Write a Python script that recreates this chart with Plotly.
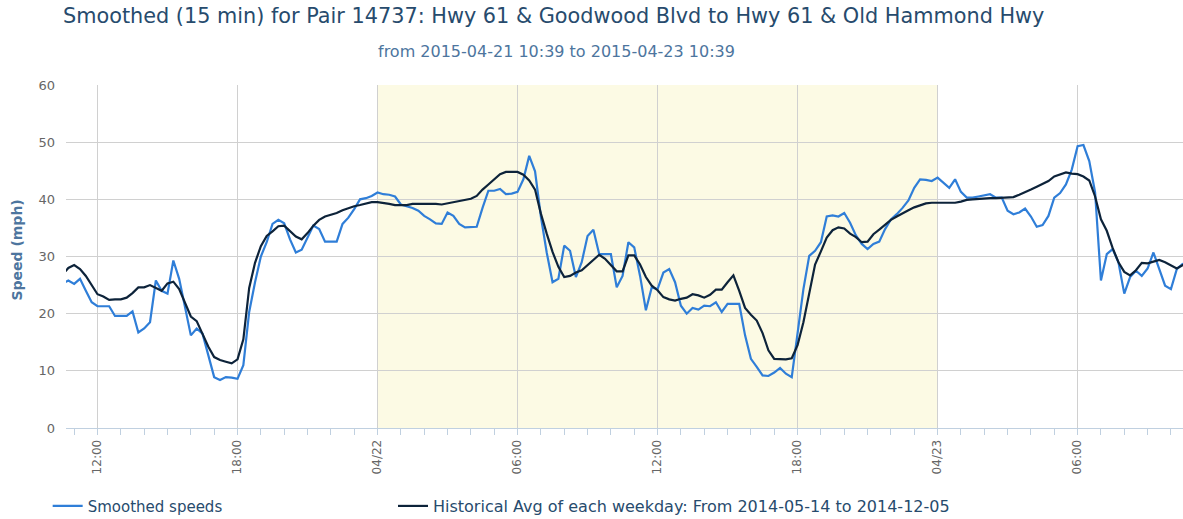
import pandas as pd
import plotly.graph_objects as go

# 15-minute timestamps (first point just before the visible window)
times = pd.date_range("2015-04-21 10:30", periods=194, freq="15min")

smoothed = [
    25.3, 25.8, 25.2, 26.1, 24.0, 22.0, 21.3, 21.3, 21.3, 19.6, 19.6, 19.6, 20.4, 16.7, 17.4, 18.5,
    25.8, 24.0, 23.5, 29.3, 26.1, 20.9, 16.2, 17.4, 16.5, 12.7, 8.9, 8.4, 8.9, 8.8, 8.6, 11.0,
    20.3, 25.5, 30.0, 32.5, 35.7, 36.4, 35.8, 33.0, 30.7, 31.2, 33.3, 35.4, 34.8, 32.6, 32.6, 32.6,
    35.7, 36.8, 38.3, 40.0, 40.2, 40.6, 41.2, 40.9, 40.8, 40.5, 39.1, 38.8, 38.5, 38.0, 37.1, 36.5,
    35.8, 35.7, 37.7, 37.1, 35.7, 35.1, 35.1, 35.2, 38.5, 41.5, 41.5, 41.8, 40.9, 41.0, 41.3, 43.5,
    47.6, 44.9, 37.0, 30.7, 25.5, 26.1, 31.9, 31.0, 26.4, 29.0, 33.6, 34.7, 30.4, 30.4, 30.4, 24.6,
    26.6, 32.5, 31.6, 26.6, 20.6, 24.6, 24.3, 27.2, 27.8, 25.5, 21.4, 20.0, 21.0, 20.7, 21.4, 21.3,
    22.0, 20.3, 21.7, 21.7, 21.7, 16.2, 12.1, 10.7, 9.2, 9.1, 9.7, 10.5, 9.5, 8.9, 16.2, 24.3,
    30.1, 31.0, 32.5, 37.0, 37.2, 37.0, 37.6, 35.9, 33.7, 32.2, 31.3, 32.2, 32.6, 34.8, 36.5, 37.4,
    38.5, 39.8, 42.0, 43.5, 43.4, 43.2, 43.8, 42.9, 42.0, 43.5, 41.3, 40.3, 40.3, 40.5, 40.7, 40.9,
    40.3, 40.3, 38.0, 37.4, 37.7, 38.4, 37.0, 35.2, 35.5, 37.1, 40.3, 41.1, 42.6, 45.2, 49.3, 49.5,
    46.7, 41.2, 25.8, 30.4, 31.3, 29.0, 23.5, 26.4, 27.5, 26.6, 27.9, 30.7, 27.8, 24.9, 24.3, 27.8,
    28.7, 28.5,
]

historical = [
    26.8, 28.0, 28.5, 27.8, 26.6, 25.0, 23.4, 23.0, 22.4, 22.5, 22.5, 22.8, 23.6, 24.6, 24.6, 25.0,
    24.5, 24.0, 25.3, 25.6, 24.3, 22.0, 19.5, 18.7, 16.5, 14.2, 12.4, 11.9, 11.6, 11.3, 12.0, 15.5,
    24.5, 28.9, 31.8, 33.6, 34.4, 35.3, 35.4, 34.5, 33.5, 33.0, 34.1, 35.4, 36.4, 37.0, 37.3, 37.6,
    38.1, 38.5, 38.8, 39.0, 39.3, 39.5, 39.5, 39.4, 39.2, 39.0, 39.0, 39.0, 39.2, 39.2, 39.2, 39.3,
    39.2, 39.1, 39.3, 39.4, 39.6, 39.8, 40.1, 40.6, 41.7, 42.6, 43.5, 44.4, 44.8, 44.8, 44.8, 44.3,
    43.3, 41.7, 37.5, 34.0, 30.8, 28.2, 26.4, 26.6, 27.2, 27.6, 28.5, 29.3, 30.3, 29.6, 28.5, 27.4,
    27.4, 30.2, 30.2, 28.6, 26.4, 24.9, 24.1, 22.9, 22.5, 22.3, 22.6, 22.8, 23.4, 23.2, 22.8, 23.3,
    24.2, 24.2, 25.5, 26.7, 24.0, 21.0, 19.8, 18.8, 16.6, 13.6, 12.1, 12.1, 12.0, 12.2, 14.5, 18.5,
    23.9, 28.6, 30.9, 33.3, 34.6, 35.1, 34.9, 34.0, 33.4, 32.5, 32.6, 33.9, 34.7, 35.6, 36.4, 37.0,
    37.6, 38.1, 38.6, 39.0, 39.3, 39.4, 39.4, 39.3, 39.3, 39.4, 39.6, 39.9, 40.0, 40.1, 40.1, 40.2,
    40.2, 40.3, 40.4, 40.4, 40.8, 41.2, 41.7, 42.2, 42.7, 43.2, 44.0, 44.4, 44.7, 44.5, 44.4, 44.0,
    43.3, 40.5, 36.5, 34.5, 31.5, 29.0, 27.3, 26.7, 27.6, 28.9, 28.8, 29.1, 29.4, 29.0, 28.5, 27.9,
    28.5, 28.4,
]

tick_vals = ["2015-04-21 12:00", "2015-04-21 18:00", "2015-04-22 00:00", "2015-04-22 06:00",
             "2015-04-22 12:00", "2015-04-22 18:00", "2015-04-23 00:00", "2015-04-23 06:00"]
tick_text = ["12:00", "18:00", "04/22", "06:00", "12:00", "18:00", "04/23", "06:00"]

band_start = "2015-04-22 00:00"
band_end = "2015-04-23 00:00"

title_text = "Smoothed (15 min) for Pair 14737: Hwy 61 & Goodwood Blvd to Hwy 61 & Old Hammond Hwy"
subtitle_text = "from 2015-04-21 10:39 to 2015-04-23 10:39"

FONT = "DejaVu Sans"

fig = go.Figure()
fig.add_trace(go.Scatter(x=times, y=smoothed, mode="lines", name="Smoothed speeds",
                         line=dict(color="#2f7ed8", width=2.2), legend="legend"))
fig.add_trace(go.Scatter(x=times, y=historical, mode="lines",
                         name="Historical Avg of each weekday: From 2014-05-14 to 2014-12-05",
                         line=dict(color="#0d233a", width=2.2), legend="legend2"))

fig.add_shape(type="rect", xref="x", yref="paper", x0=band_start, x1=band_end, y0=0, y1=1,
              fillcolor="#fcfae4", line=dict(width=0), layer="below")

fig.update_layout(
    width=1183, height=519,
    margin=dict(l=66, r=0, t=85, b=91),
    paper_bgcolor="white", plot_bgcolor="white",
    font=dict(family=FONT, color="#666666"),
    xaxis=dict(
        type="date", automargin=False,
        range=["2015-04-21 10:39", "2015-04-23 10:31"],
        tickmode="array", tickvals=tick_vals, ticktext=tick_text,
        tickangle=-90, tickfont=dict(size=12, color="#666666"),
        ticks="outside", ticklen=6, tickcolor="#C0D0E0", tickwidth=1,
        showgrid=True, gridcolor="#d0d0d0", gridwidth=1,
        showline=True, linecolor="#C0D0E0", linewidth=1,
        minor=dict(tickmode="linear", tick0="2015-04-21 00:00", dtick=3600000,
                   ticks="outside", ticklen=6, tickcolor="#C0D0E0", showgrid=False),
        zeroline=False,
    ),
    yaxis=dict(
        range=[0, 60], dtick=10, tick0=0, automargin=False,
        tickfont=dict(size=13, color="#666666"),
        showgrid=True, gridcolor="#d0d0d0", gridwidth=1,
        zeroline=False, showline=False, ticks="", ticklabelstandoff=10,
    ),
    legend=dict(orientation="h", xref="container", yref="container",
                x=0.0403, xanchor="left", y=0.025, yanchor="middle",
                font=dict(size=15, color="#274b6d", family=FONT), bgcolor="rgba(0,0,0,0)"),
    legend2=dict(orientation="h", xref="container", yref="container",
                 x=0.3322, xanchor="left", y=0.025, yanchor="middle",
                 font=dict(size=16, color="#274b6d", family=FONT), bgcolor="rgba(0,0,0,0)"),
    showlegend=True,
    annotations=[
        dict(text=title_text, xref="paper", yref="paper", x=0.436, y=1.2012,
             xanchor="center", yanchor="middle", showarrow=False,
             font=dict(size=20.8, color="#274b6d", family=FONT)),
        dict(text=subtitle_text, xref="paper", yref="paper", x=0.4387, y=1.099,
             xanchor="center", yanchor="middle", showarrow=False,
             font=dict(size=16, color="#4d759e", family=FONT)),
        dict(text="<b>Speed (mph)</b>", xref="paper", yref="paper", x=-0.0439, y=0.52,
             xanchor="center", yanchor="middle", textangle=-90, showarrow=False,
             font=dict(size=14, color="#4d759e", family=FONT)),
    ],
)

fig.write_html("out.html", config={"displayModeBar": False},
               post_script="document.body.style.margin='0px';")
